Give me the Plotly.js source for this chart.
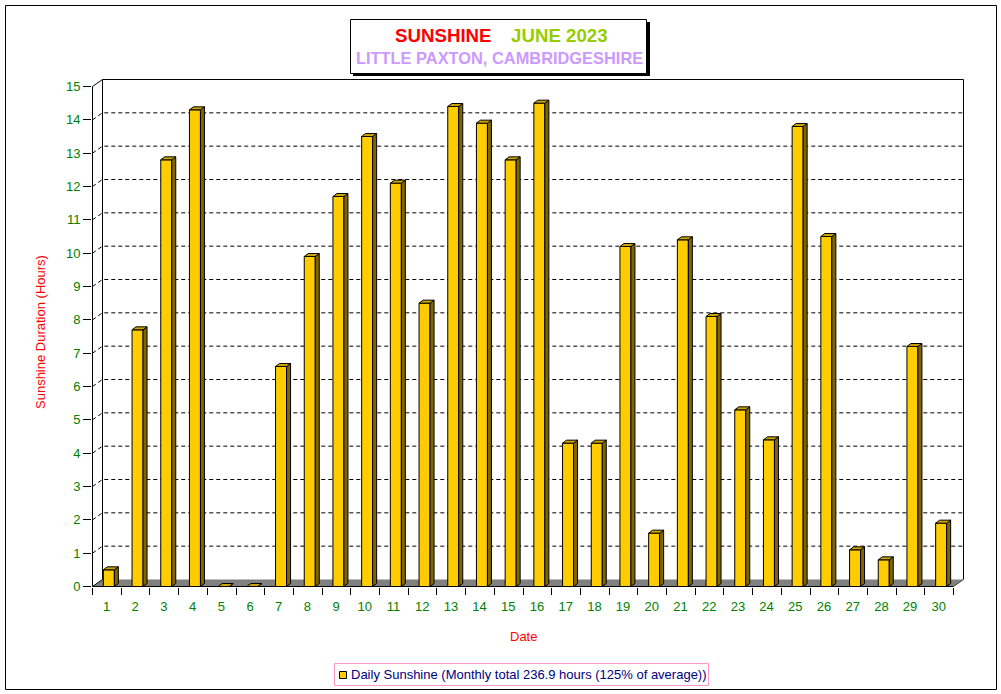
<!DOCTYPE html>
<html>
<head>
<meta charset="utf-8">
<script src="https://cdn.plot.ly/plotly-3.0.1.min.js"></script>
<style>
html,body{margin:0;padding:0;background:#fff;}
#chart{width:1001px;height:694px;}
</style>
</head>
<body>
<div id="chart"></div>
<script>
// ---- data ----
const days = [1,2,3,4,5,6,7,8,9,10,11,12,13,14,15,16,17,18,19,20,21,22,23,24,25,26,27,28,29,30];
const dayLabels = ['1','2','3','4','5','6','7','8','9','10','11','12','13','14','15','16','17','18','19','20','21','22','23','24','25','26','27','28','29','30'];
const sunshineHours = [0.5,7.7,12.8,14.3,0,0,6.6,9.9,11.7,13.5,12.1,8.5,14.4,13.9,12.8,14.5,4.3,4.3,10.2,1.6,10.4,8.1,5.3,4.4,13.8,10.5,1.1,0.8,7.2,1.9];
const yTickValues = [0,1,2,3,4,5,6,7,8,9,10,11,12,13,14,15];
const titleMain = 'SUNSHINE';
const titlePeriod = 'JUNE 2023';
const titlePlace = 'LITTLE PAXTON, CAMBRIDGESHIRE';
const yTitle = 'Sunshine Duration (Hours)';
const xTitle = 'Date';
const seriesName = 'Daily Sunshine (Monthly total 236.9 hours (125% of average))';

// ---- layout geometry (pixels) ----
const FONT = 'Arial, "Liberation Sans", sans-serif';
const L = 92, W = 873, PB = 587, HP = 509;
const PXU = 861 / 30, PYU = 500 / 15;
const xr0 = 0.5 - 0.5 / PXU, xr1 = xr0 + W / PXU;
const yr0 = -0.5 / PYU, yr1 = yr0 + HP / PYU;
const wallDX = 10 / PXU, wallDY = 7 / PYU;
const barW = 11 / PXU, barOff = -3.5 / PXU, barDX = 4 / PXU, barDY = 3 / PYU;
const xFirst = days[0] - 0.5, xLast = days[days.length - 1] + 0.5;
const yMax = yTickValues[yTickValues.length - 1];
const px = v => (v - L) / W;
const py = v => (PB - v) / HP;

const shapes = [];
// floor
shapes.push({type:'path', xref:'x', yref:'y', layer:'below',
  path:`M${xFirst},0 L${xLast},0 L${xLast+wallDX},${wallDY} L${xFirst+wallDX},${wallDY} Z`,
  fillcolor:'#808080', line:{width:0}});
// gridlines
yTickValues.filter(v => v > 0 && v < yMax).forEach(v => {
  shapes.push({type:'path', xref:'x', yref:'y', layer:'below',
    path:`M${xFirst},${v} L${xFirst+wallDX},${v+wallDY} L${xLast+wallDX},${v+wallDY}`,
    line:{color:'#000', width:1, dash:'4px,3px'}});
});
// back wall
shapes.push({type:'path', xref:'x', yref:'y', layer:'below',
  path:`M${xFirst+wallDX},${wallDY} L${xFirst+wallDX},${yMax+wallDY} L${xLast+wallDX},${yMax+wallDY} L${xLast+wallDX},${wallDY}`,
  line:{color:'#000', width:1}});
shapes.push({type:'path', xref:'x', yref:'y', layer:'below',
  path:`M${xFirst},${yMax} L${xFirst+wallDX},${yMax+wallDY}`, line:{color:'#000', width:1}});
shapes.push({type:'path', xref:'x', yref:'y', layer:'below',
  path:`M${xFirst},0 L${xFirst+wallDX},${wallDY}`, line:{color:'#000', width:1}});
shapes.push({type:'path', xref:'x', yref:'y', layer:'below',
  path:`M${xLast},0 L${xLast+wallDX},${wallDY}`, line:{color:'#404040', width:1}});

// bar side and top faces
days.forEach((d, i) => {
  const v = sunshineHours[i];
  const xl = d + barOff, xr = d + barOff + barW;
  shapes.push({type:'path', xref:'x', yref:'y', layer:'above',
    path:`M${xr},0 L${xr+barDX},${barDY} L${xr+barDX},${v+barDY} L${xr},${v} Z`,
    fillcolor:'#806600', line:{color:'#000', width:1}});
  shapes.push({type:'path', xref:'x', yref:'y', layer:'above',
    path:`M${xl},${v} L${xl+barDX},${v+barDY} L${xr+barDX},${v+barDY} L${xr},${v} Z`,
    fillcolor:'#CCA300', line:{color:'#000', width:1}});
});
// axis lines
shapes.push({type:'path', xref:'x', yref:'y', layer:'above',
  path:`M${xFirst},0 L${xFirst},${yMax}`, line:{color:'#000', width:1}});
shapes.push({type:'path', xref:'x', yref:'y', layer:'above',
  path:`M${xFirst},0 L${xLast},0`, line:{color:'#000', width:1}});

// outer frame
shapes.push({type:'rect', xref:'paper', yref:'paper', layer:'above',
  x0:px(5.5), x1:px(996.5), y0:py(5.5), y1:py(689.5), line:{color:'#000', width:1}});
// title box with shadow
shapes.push({type:'rect', xref:'paper', yref:'paper', layer:'above',
  x0:px(353), x1:px(650), y0:py(22), y1:py(76), fillcolor:'#000', line:{width:0}});
shapes.push({type:'rect', xref:'paper', yref:'paper', layer:'above',
  x0:px(350.5), x1:px(646.5), y0:py(19.5), y1:py(73.5), fillcolor:'#fff', line:{color:'#000', width:1}});
// legend box
shapes.push({type:'rect', xref:'paper', yref:'paper', layer:'above',
  x0:px(334.5), x1:px(708.5), y0:py(663.5), y1:py(685.5), fillcolor:'#fff', line:{color:'#FF99CC', width:1}});
shapes.push({type:'rect', xref:'paper', yref:'paper', layer:'above',
  x0:px(339.5), x1:px(346.5), y0:py(671.5), y1:py(678.5), fillcolor:'#FFCC00', line:{color:'#000', width:1}});

const annotations = [
  {text:titleMain, xref:'paper', yref:'paper', x:px(443.5), y:py(36), xanchor:'center', yanchor:'middle', showarrow:false,
   font:{family:FONT, size:18.7, color:'#FF0000', weight:'bold'}},
  {text:titlePeriod, xref:'paper', yref:'paper', x:px(559), y:py(36), xanchor:'center', yanchor:'middle', showarrow:false,
   font:{family:FONT, size:18.7, color:'#99CC00', weight:'bold'}},
  {text:titlePlace, xref:'paper', yref:'paper', x:px(499), y:py(58.5), xanchor:'center', yanchor:'middle', showarrow:false,
   font:{family:FONT, size:16.4, color:'#CC99FF', weight:'bold'}},
  {text:yTitle, xref:'paper', yref:'paper', x:px(40), y:py(332), xanchor:'center', yanchor:'middle', textangle:-90, showarrow:false,
   font:{family:FONT, size:13, color:'#FF0000'}},
  {text:xTitle, xref:'x', yref:'paper', x:(xFirst + xLast) / 2, y:py(636), xanchor:'center', yanchor:'middle', showarrow:false,
   font:{family:FONT, size:13, color:'#FF0000'}},
  {text:seriesName, xref:'paper', yref:'paper', x:px(348.5), y:py(674.5), xanchor:'left', yanchor:'middle', showarrow:false,
   font:{family:FONT, size:13, color:'#000080'}}
];

const trace = {
  type:'bar', x:days, y:sunshineHours, name:seriesName,
  width:barW, offset:barOff,
  marker:{color:'#FFCC00', line:{color:'#000', width:1}},
  hoverinfo:'skip', showlegend:false
};

const boundaries = days.map(d => d - 0.5).concat([xLast]);

const layout = {
  width:1001, height:694,
  margin:{l:L, r:1001 - L - W, t:PB - HP, b:694 - PB, pad:0},
  paper_bgcolor:'#fff', plot_bgcolor:'#fff',
  showlegend:false, hovermode:false,
  font:{family:FONT, size:13},
  xaxis:{range:[xr0, xr1], tickmode:'array', tickvals:boundaries, ticktext:dayLabels.concat(['']),
    ticklabelshift:Math.round(PXU / 2), ticks:'outside', ticklen:7, tickwidth:1, tickcolor:'#000',
    showgrid:false, zeroline:false, showline:false, fixedrange:true,
    tickfont:{family:FONT, size:13, color:'#008000'}},
  yaxis:{range:[yr0, yr1], tickmode:'array', tickvals:yTickValues, ticktext:yTickValues.map(String),
    ticks:'outside', ticklen:8, tickwidth:1, tickcolor:'#000',
    showgrid:false, zeroline:false, showline:false, fixedrange:true,
    tickfont:{family:FONT, size:13, color:'#008000'}},
  shapes:shapes,
  annotations:annotations
};

Plotly.newPlot('chart', [trace], layout, {displayModeBar:false, staticPlot:true});
</script>
</body>
</html>
